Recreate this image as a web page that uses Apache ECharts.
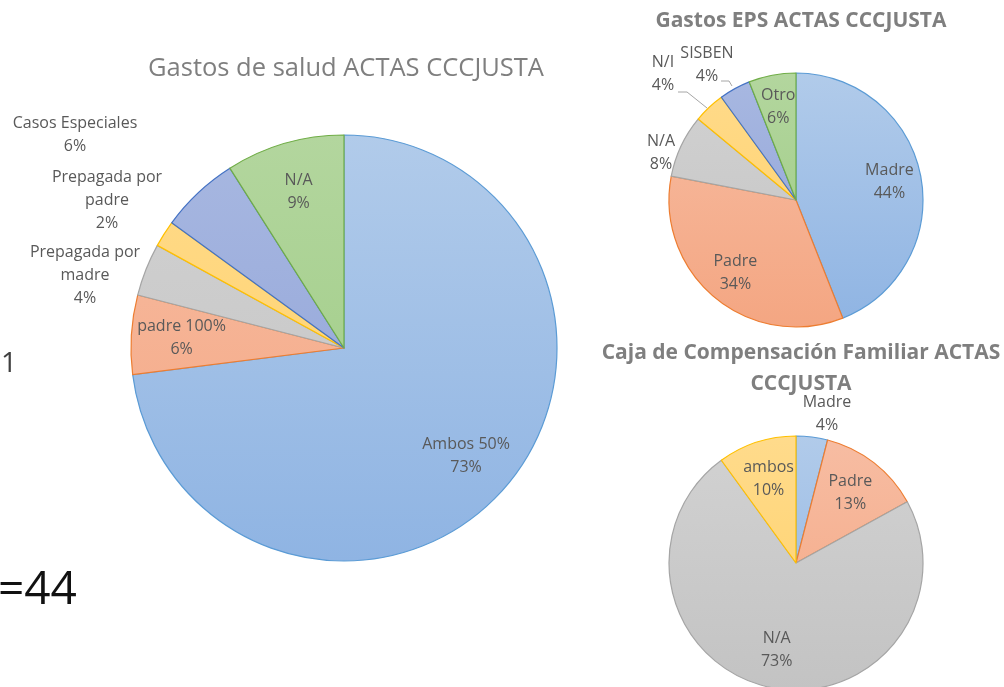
<!DOCTYPE html>
<html>
<head>
<meta charset="utf-8">
<title>Gastos ACTAS CCCJUSTA</title>
<script src="https://cdn.jsdelivr.net/npm/echarts@6/dist/echarts.min.js"></script>
<style>
html, body { margin: 0; padding: 0; background: #fff; }
#chartWrap { width: 1004px; height: 687px; }
</style>
</head>
<body>
<div id="chartWrap"></div>
<script>
// Gastos de salud
var saludNombres = ['Ambos 50%', 'padre 100%', 'Prepagada por\nmadre', 'Prepagada por\npadre', 'Casos Especiales', 'N/A'];
var saludValores = [73, 6, 4, 2, 6, 9];
// Gastos EPS
var epsNombres = ['Madre', 'Padre', 'N/A', 'N/I', 'SISBEN', 'Otro'];
var epsValores = [44, 34, 8, 4, 4, 6];
// Caja de compensacion familiar
var cajaNombres = ['Madre', 'Padre', 'N/A', 'ambos'];
var cajaValores = [4, 13, 73, 10];

// colores tipo excel: borde, arriba, abajo
var colores = [
  ['#5B9BD5', '#B1CBEA', '#8FB4E3'],
  ['#ED7D31', '#F7BDA3', '#F4A682'],
  ['#A5A5A5', '#D2D2D2', '#C3C3C3'],
  ['#FFC000', '#FFDB8C', '#FFD066'],
  ['#4472C4', '#A8B8E1', '#8EA1D7'],
  ['#70AD47', '#B3D69E', '#9CCB82']
];

var FUENTE = 'Open Sans';
var GRIS = '#595959';

// mini extend para no depender de jquery
var $ = {
  extend: function(a, b) {
    for (var k in b) a[k] = b[k];
    return a;
  }
};

function gradiente(i, cy, r) {
  var c = colores[i];
  return {
    type: 'linear', x: 0, y: cy - r, x2: 0, y2: cy + r, global: true,
    colorStops: [{ offset: 0, color: c[1] }, { offset: 1, color: c[2] }]
  };
}

// arma dos series: la torta con etiquetas de afuera y una capa transparente con las de adentro
function tortas(nombres, valores, centro, radio, fraccion, fuera) {
  var base = [], capa = [];
  for (var i = 0; i < valores.length; i++) {
    var afuera = fuera.hasOwnProperty(i);
    base.push({
      name: nombres[i],
      value: valores[i],
      itemStyle: { color: gradiente(i, centro[1], radio), borderColor: colores[i][0], borderWidth: 1.2 },
      label: { show: afuera },
      labelLine: { show: !!(afuera && fuera[i].linea) }
    });
    capa.push({ name: nombres[i], value: valores[i], label: { show: !afuera } });
  }
  var etiqueta = { formatter: '{b}\n{d}%', color: GRIS, fontSize: 16, lineHeight: 23, fontFamily: FUENTE };
  return [{
    type: 'pie',
    center: centro,
    radius: radio,
    data: base,
    silent: true,
    animation: false,
    avoidLabelOverlap: false,
    percentPrecision: 0,
    label: $.extend({ position: 'outside' }, etiqueta),
    labelLine: { lineStyle: { color: '#A6A6A6', width: 1 } },
    labelLayout: function(p) {
      var f = fuera[p.dataIndex];
      if (!f) return {};
      var r = { x: f.x, y: f.y, align: 'center', verticalAlign: 'middle' };
      if (f.linea) r.labelLinePoints = f.linea;
      return r;
    }
  }, {
    type: 'pie',
    center: centro,
    radius: [radio * fraccion, radio],
    data: capa,
    silent: true,
    animation: false,
    avoidLabelOverlap: false,
    percentPrecision: 0,
    z: 3,
    itemStyle: { color: 'rgba(0,0,0,0)', borderWidth: 0 },
    label: $.extend({ position: 'inside' }, etiqueta),
    labelLine: { show: false }
  }];
}

var series = [].concat(
  tortas(saludNombres, saludValores, [344, 348], 213, 0.5, {
    2: { x: 85, y: 275 },
    3: { x: 107, y: 200 },
    4: { x: 75, y: 135 }
  }),
  tortas(epsNombres, epsValores, [796, 200], 127, 0.45, {
    2: { x: 661, y: 153 },
    3: { x: 663, y: 74, linea: [[707, 108], [687, 92], [678, 92]] },
    4: { x: 707, y: 65, linea: [[732, 86], [729, 81], [721, 81]] }
  }),
  tortas(cajaNombres, cajaValores, [796, 563], 127, 0.35, {
    0: { x: 827, y: 414 }
  })
);

var myChart = echarts.init(document.getElementById('chartWrap'));
myChart.setOption({
  backgroundColor: '#fff',
  animation: false,
  title: [{
    text: 'Gastos de salud ACTAS CCCJUSTA',
    left: 341, top: 64, textAlign: 'center', textVerticalAlign: 'middle',
    textStyle: { color: '#7F7F7F', fontSize: 25.5, fontWeight: 'normal', fontFamily: FUENTE }
  }, {
    text: 'Gastos EPS ACTAS CCCJUSTA',
    left: 796, top: 16, textAlign: 'center', textVerticalAlign: 'middle',
    textStyle: { color: '#7F7F7F', fontSize: 21, fontWeight: 'bold', fontFamily: FUENTE }
  }, {
    text: 'Caja de Compensación Familiar ACTAS\nCCCJUSTA',
    left: 796, top: 364, textAlign: 'center', textVerticalAlign: 'middle',
    textStyle: { color: '#7F7F7F', fontSize: 21, fontWeight: 'bold', lineHeight: 31, fontFamily: FUENTE }
  }],
  graphic: [{
    type: 'text', x: 1, y: 364,
    style: { text: '1', fontSize: 28, fill: '#404040', fontFamily: FUENTE, verticalAlign: 'middle' }
  }, {
    type: 'text', x: -2, y: 591,
    style: { text: '=44', fontSize: 46, fill: '#111', fontFamily: FUENTE, verticalAlign: 'middle' }
  }],
  series: series
});
</script>
</body>
</html>
